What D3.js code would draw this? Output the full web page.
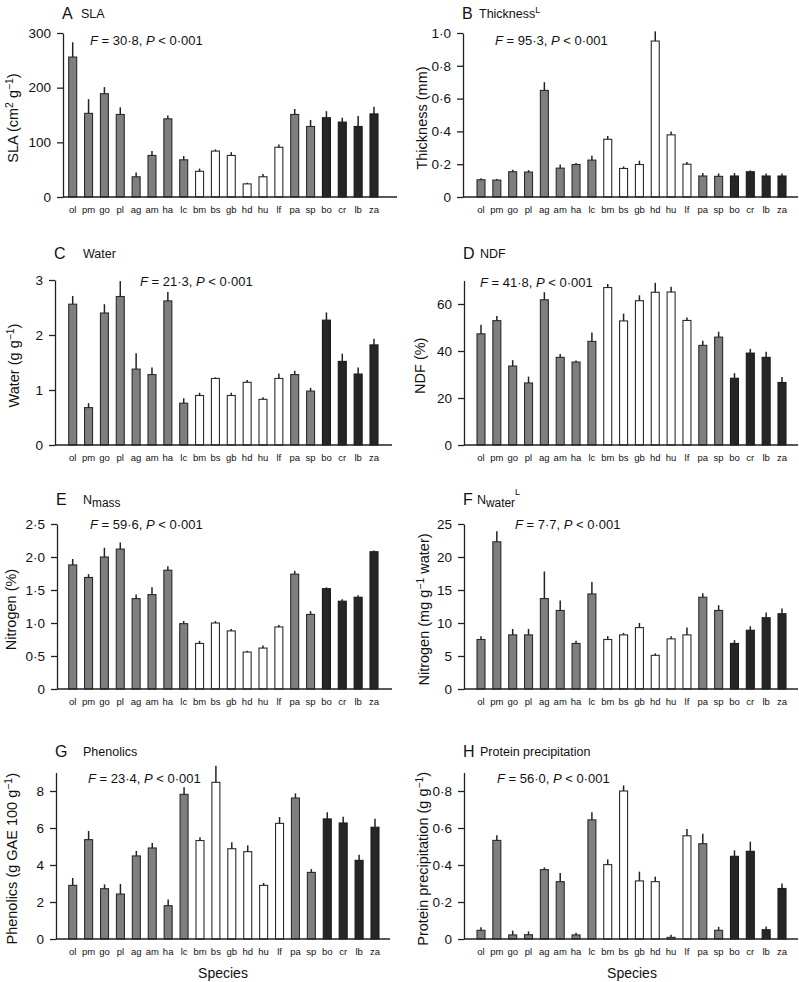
<!DOCTYPE html>
<html><head><meta charset="utf-8">
<script src="https://cdn.jsdelivr.net/npm/d3@7"></script>
<style>
body{margin:0;background:#fff;}
svg{display:block;font-family:"Liberation Sans",Arial,Helvetica,sans-serif;}
</style></head>
<body>
<svg id="chart" width="799" height="982"></svg>
<script>
// ---- data ----
const species = ["ol","pm","go","pl","ag","am","ha","lc","bm","bs","gb","hd","hu","lf","pa","sp","bo","cr","lb","za"];
const groups  = ["g","g","g","g","g","g","g","g","w","w","w","w","w","w","g","g","b","b","b","b"];

const slaMean  = [256,153,189,151,37,76,143,68,47,84,76,24,37,91,151,129,145,137,129,152];
const slaUpper = [283,179,201,164,45,84,149,75,52,87,82,26,42,96,161,141,157,145,148,165];

const thkMean  = [0.105,0.103,0.154,0.152,0.65,0.176,0.198,0.225,0.352,0.174,0.198,0.951,0.379,0.2,0.128,0.126,0.128,0.154,0.128,0.128];
const thkUpper = [0.115,0.109,0.166,0.164,0.70,0.198,0.208,0.251,0.372,0.186,0.221,1.01,0.399,0.213,0.146,0.144,0.146,0.162,0.144,0.144];

const watMean  = [2.56,0.68,2.40,2.70,1.38,1.28,2.62,0.76,0.90,1.21,0.90,1.14,0.83,1.21,1.28,0.98,2.27,1.52,1.29,1.82];
const watUpper = [2.71,0.76,2.56,2.98,1.67,1.41,2.78,0.85,0.95,1.23,0.95,1.18,0.87,1.30,1.35,1.04,2.41,1.66,1.41,1.93];

const ndfMean  = [47.3,52.9,33.6,26.4,61.8,37.3,35.3,44.1,67.0,52.8,61.4,65.0,65.1,53.0,42.4,45.9,28.4,39.1,37.3,26.6];
const ndfUpper = [51.2,54.9,36.1,29.1,65.0,38.7,36.0,47.9,68.5,55.9,63.7,69.0,67.3,54.3,44.4,48.2,30.6,40.9,39.7,28.9];

const nmMean   = [1.88,1.69,2.00,2.12,1.37,1.43,1.80,0.99,0.69,1.00,0.88,0.56,0.62,0.94,1.74,1.13,1.52,1.33,1.39,2.08];
const nmUpper  = [1.97,1.74,2.14,2.22,1.43,1.54,1.86,1.03,0.73,1.03,0.91,0.58,0.66,0.97,1.79,1.18,1.54,1.36,1.42,2.10];

const nwMean   = [7.5,22.3,8.2,8.2,13.7,11.9,6.9,14.4,7.5,8.2,9.3,5.1,7.6,8.2,13.9,11.9,6.9,8.9,10.8,11.4];
const nwUpper  = [8.0,23.9,9.1,9.1,17.8,13.4,7.3,16.2,8.0,8.5,10.0,5.4,8.0,9.3,14.5,12.7,7.4,9.5,11.6,12.2];

const phMean   = [2.90,5.37,2.72,2.43,4.49,4.92,1.80,7.82,5.32,8.47,4.88,4.72,2.90,6.25,7.62,3.60,6.49,6.27,4.25,6.04];
const phUpper  = [3.30,5.84,2.95,2.97,4.76,5.19,2.13,8.20,5.50,9.37,5.23,5.06,3.03,6.59,7.87,3.78,6.85,6.61,4.56,6.50];

const ppMean   = [0.047,0.533,0.022,0.023,0.375,0.31,0.022,0.644,0.402,0.80,0.314,0.31,0.009,0.558,0.515,0.047,0.447,0.474,0.050,0.273];
const ppUpper  = [0.063,0.561,0.045,0.041,0.387,0.357,0.034,0.685,0.43,0.83,0.364,0.337,0.023,0.595,0.569,0.066,0.479,0.526,0.068,0.30];

const ticksA = [0,100,200,300];
const ticksB = [0,0.2,0.4,0.6,0.8,1.0];
const ticksC = [0,1,2,3];
const ticksD = [0,20,40,60];
const ticksE = [0,0.5,1.0,1.5,2.0,2.5];
const ticksF = [0,5,10,15,20,25];
const ticksG = [0,2,4,6,8];
const ticksH = [0,0.2,0.4,0.6,0.8];

const statA = ["30·8","0·001"], statB = ["95·3","0·001"], statC = ["21·3","0·001"], statD = ["41·8","0·001"];
const statE = ["59·6","0·001"], statF = ["7·7","0·001"], statG = ["23·4","0·001"], statH = ["56·0","0·001"];

// ---- layout ----
const svg = d3.select("#chart");
const fills = {g:"#7f7f7f", w:"#ffffff", b:"#262626"};
const strokes = {g:"#2b2b2b", w:"#2b2b2b", b:"#1a1a1a"};

const panels = [
 {letter:"A", title:[["SLA"]], mean:slaMean, upper:slaUpper, ticks:ticksA, dom:[0,300], dec:0,
  ax:63, y0:197, yTop:33, xEnd:397, c0:72.7, c1:374, stat:statA, sx:90, sy:45,
  ytitle:[["SLA (cm"],["2","sup"],[" g"],["−1","sup"],[")"]], ytx:18, tly:19, ttx:81},
 {letter:"B", title:[["Thickness"],["L","sup"]], mean:thkMean, upper:thkUpper, ticks:ticksB, dom:[0,1], dec:1,
  ax:463, y0:197, yTop:33, xEnd:798, c0:481, c1:782, stat:statB, sx:495, sy:45,
  ytitle:[["Thickness (mm)"]], ytx:427, tly:19, ttx:479},
 {letter:"C", title:[["Water"]], mean:watMean, upper:watUpper, ticks:ticksC, dom:[0,3], dec:0,
  ax:55, y0:445, yTop:280, xEnd:392, c0:72.7, c1:374, stat:statC, sx:140, sy:286,
  ytitle:[["Water (g g"],["−1","sup"],[")"]], ytx:19, tly:259, ttx:83},
 {letter:"D", title:[["NDF"]], mean:ndfMean, upper:ndfUpper, ticks:ticksD, dom:[0,70], dec:0,
  ax:464, y0:445, yTop:280.5, xEnd:798, c0:481, c1:782, stat:statD, sx:480, sy:287,
  ytitle:[["NDF (%)"]], ytx:425, tly:259, ttx:480},
 {letter:"E", title:[["N"],["mass","sub"]], mean:nmMean, upper:nmUpper, ticks:ticksE, dom:[0,2.5], dec:1,
  ax:57, y0:689, yTop:524, xEnd:392, c0:72.7, c1:374, stat:statE, sx:90, sy:529,
  ytitle:[["Nitrogen (%)"]], ytx:16, tly:505, ttx:83},
 {letter:"F", title:[["N"],["water","sub"],["L","sup2"]], mean:nwMean, upper:nwUpper, ticks:ticksF, dom:[0,25], dec:0,
  ax:464, y0:689, yTop:524, xEnd:798, c0:481, c1:782, stat:statF, sx:515, sy:529,
  ytitle:[["Nitrogen (mg g"],["−1","sup"],[" water)"]], ytx:429, tly:505, ttx:477},
 {letter:"G", title:[["Phenolics"]], mean:phMean, upper:phUpper, ticks:ticksG, dom:[0,9], dec:0,
  ax:56, y0:939, yTop:772.5, xEnd:390, c0:72.7, c1:375, stat:statG, sx:88, sy:783,
  ytitle:[["Phenolics (g GAE 100 g"],["−1","sup"],[")"]], ytx:17, tly:757, ttx:83, xlab:223},
 {letter:"H", title:[["Protein precipitation"]], mean:ppMean, upper:ppUpper, ticks:ticksH, dom:[0,0.9], dec:1,
  ax:464, y0:939, yTop:772.5, xEnd:798, c0:481, c1:782, stat:statH, sx:497, sy:783,
  ytitle:[["Protein precipitation (g g"],["−1","sup"],[")"]], ytx:428, tly:757, ttx:480, xlab:632}
];

function fmt(dec){ return v => v===0 ? "0" : d3.format("."+dec+"f")(v).replace(".", "·"); }

function addRuns(sel, runs, size){
  let prev = "base";
  const off = {base:0, sup:-5, sub:3, sup2:-9};
  const scale = {base:1, sup:0.72, sub:0.95, sup2:0.72};
  runs.forEach(([t, kind]) => {
    const k = kind || "base";
    const ts = sel.append("tspan").text(t);
    const dy = off[k] - off[prev];
    if (dy) ts.attr("dy", dy);
    if (k !== "base") ts.attr("font-size", size*scale[k]);
    prev = k;
  });
}

panels.forEach(p => {
  const g = svg.append("g");
  const y = d3.scaleLinear().domain(p.dom).range([p.y0, p.yTop]);
  const x = d3.scalePoint().domain(species).range([p.c0, p.c1]);
  const bw = 8;

  // bars
  g.selectAll("rect.bar").data(species).join("rect")
    .attr("x", d => x(d) - bw/2)
    .attr("y", (d,i) => y(p.mean[i]))
    .attr("width", bw)
    .attr("height", (d,i) => p.y0 - y(p.mean[i]))
    .attr("fill", (d,i) => fills[groups[i]])
    .attr("stroke", (d,i) => strokes[groups[i]])
    .attr("stroke-width", 1.1);
  // error bars
  g.selectAll("line.err").data(species).join("line")
    .attr("x1", d => x(d)).attr("x2", d => x(d))
    .attr("y1", (d,i) => y(p.mean[i]))
    .attr("y2", (d,i) => y(p.upper[i]))
    .attr("stroke", "#222").attr("stroke-width", 1.5);

  // y axis
  const ya = g.append("g").attr("transform", `translate(${p.ax},0)`)
    .call(d3.axisLeft(y).tickValues(p.ticks).tickFormat(fmt(p.dec)).tickSize(6).tickPadding(6).tickSizeOuter(0));
  ya.select(".domain").attr("stroke", "#222").attr("stroke-width", 1.3);
  ya.selectAll(".tick line").attr("stroke", "#222").attr("stroke-width", 1.3);
  ya.selectAll(".tick text").attr("font-size", 13.5).attr("fill", "#111")
    .attr("font-family", '"Liberation Sans",Arial,sans-serif');

  // x axis line
  g.append("line").attr("x1", p.ax).attr("x2", p.xEnd).attr("y1", p.y0).attr("y2", p.y0)
    .attr("stroke", "#222").attr("stroke-width", 1.3);
  // species labels
  g.selectAll("text.sp").data(species).join("text")
    .attr("x", d => x(d)).attr("y", p.y0 + 16)
    .attr("text-anchor", "middle").attr("font-size", 9.5).attr("fill", "#111")
    .text(d => d);

  // panel letter + title
  g.append("text").attr("x", p.ax - 1).attr("y", p.tly).attr("font-size", 16).attr("fill", "#111").text(p.letter);
  const tt = g.append("text").attr("x", p.ttx).attr("y", p.tly - 1).attr("font-size", 12.5).attr("fill", "#111");
  addRuns(tt, p.title, 12.5);

  // stat text
  const st = g.append("text").attr("x", p.sx).attr("y", p.sy).attr("font-size", 13).attr("fill", "#111");
  st.append("tspan").attr("font-style", "italic").text("F");
  st.append("tspan").text(" = " + p.stat[0] + ", ");
  st.append("tspan").attr("font-style", "italic").text("P");
  st.append("tspan").text(" < " + p.stat[1]);

  // y title
  const cy = (p.y0 + p.yTop) / 2 + 3;
  const yt = g.append("text").attr("transform", `translate(${p.ytx},${cy}) rotate(-90)`)
    .attr("text-anchor", "middle").attr("font-size", 14.5).attr("fill", "#111");
  addRuns(yt, p.ytitle, 14.5);

  if (p.xlab) {
    g.append("text").attr("x", p.xlab).attr("y", 978).attr("text-anchor", "middle")
      .attr("font-size", 14).attr("fill", "#111").text("Species");
  }
});
</script>
</body></html>
